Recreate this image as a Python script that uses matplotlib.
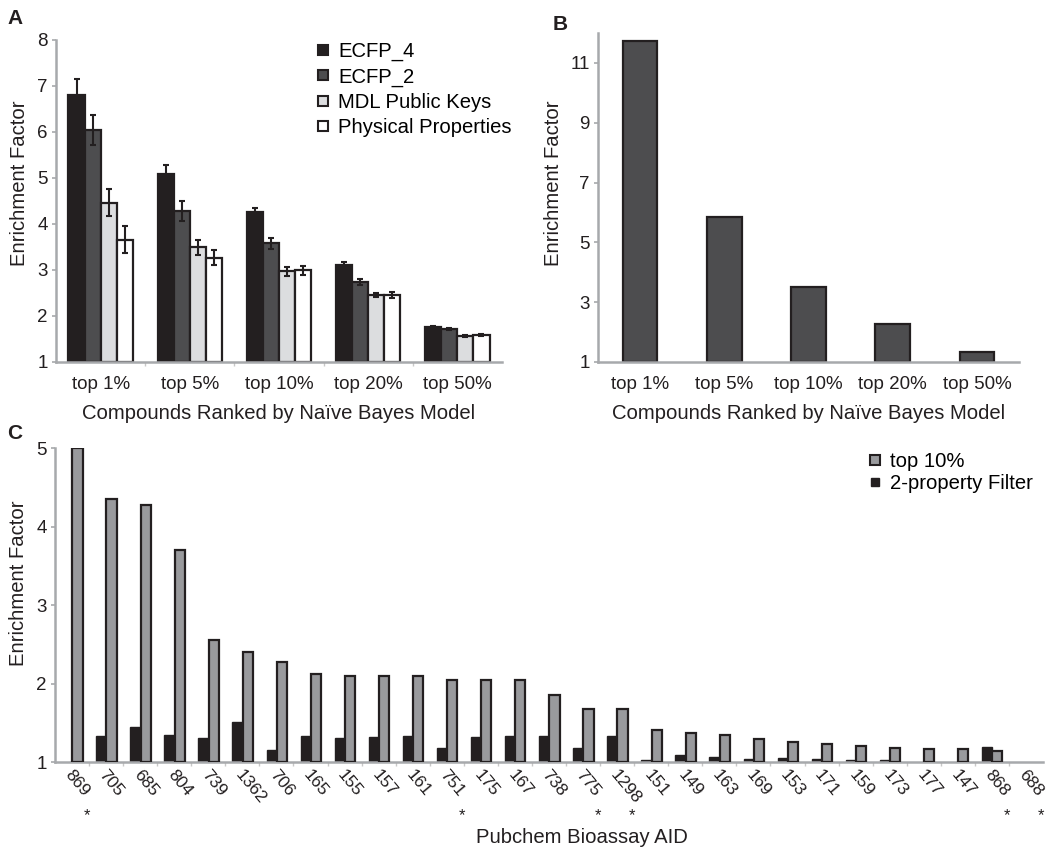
import numpy as np
import matplotlib
matplotlib.use("Agg")
import matplotlib.pyplot as plt
from matplotlib.lines import Line2D

plt.rcParams['font.family'] = ['Liberation Sans', 'DejaVu Sans']

# Panel A: enrichment per fingerprint type
cutoffs = ['top 1%', 'top 5%', 'top 10%', 'top 20%', 'top 50%']
fp_names = ['ECFP_4', 'ECFP_2', 'MDL Public Keys', 'Physical Properties']
fp_colors = ['#231f20', '#4d4d4f', '#dcdddf', '#ffffff']
ecfp4 = [6.81, 5.09, 4.25, 3.10, 1.76]
ecfp4_err = [0.35, 0.19, 0.10, 0.07, 0.03]
ecfp2 = [6.05, 4.28, 3.58, 2.74, 1.72]
ecfp2_err = [0.33, 0.21, 0.12, 0.07, 0.02]
mdl = [4.46, 3.49, 2.97, 2.46, 1.57]
mdl_err = [0.29, 0.16, 0.10, 0.05, 0.02]
physprop = [3.66, 3.27, 2.99, 2.46, 1.59]
physprop_err = [0.30, 0.16, 0.10, 0.06, 0.02]

# Panel B: physical-property model
physprop_b = [11.72, 5.86, 3.52, 2.28, 1.33]

# Panel C: per-assay enrichment
aids = ['869', '705', '685', '804', '739', '1362', '706', '165', '155', '157',
        '161', '751', '175', '167', '738', '775', '1298', '151', '149', '163',
        '169', '153', '171', '159', '173', '177', '147', '868', '688']
top10 = [5.00, 4.35, 4.28, 3.70, 2.55, 2.40, 2.28, 2.12, 2.10, 2.10,
         2.10, 2.05, 2.05, 2.04, 1.85, 1.67, 1.67, 1.41, 1.37, 1.35,
         1.29, 1.25, 1.23, 1.20, 1.18, 1.17, 1.16, 1.14, 1.00]
filter2 = [1.00, 1.33, 1.44, 1.35, 1.30, 1.51, 1.15, 1.33, 1.31, 1.32,
           1.33, 1.18, 1.32, 1.33, 1.33, 1.18, 1.33, 1.03, 1.09, 1.06,
           1.04, 1.05, 1.04, 1.03, 1.03, 1.00, 1.00, 1.19, 1.00]
starred = ['869', '751', '775', '1298', '868', '688']

W, H = 1050, 847
INK = '#231f20'
LBL = 14.6
fig = plt.figure(figsize=(W / 100, H / 100), dpi=100)


def px_axes(left, top, right, bottom):
    return fig.add_axes([left / W, 1 - bottom / H, (right - left) / W, (bottom - top) / H])


def style_axes(ax):
    for s in ['top', 'right']:
        ax.spines[s].set_visible(False)
    for s in ['left', 'bottom']:
        ax.spines[s].set_color('#a7a9ac')
        ax.spines[s].set_linewidth(1.8)
    ax.tick_params(axis='y', colors='#a7a9ac', labelcolor=INK,
                   labelsize=13.5, length=3, width=1.2, direction='out', pad=3)
    ax.tick_params(axis='x', which='major', length=0, labelsize=13.5,
                   labelcolor=INK, pad=10)
    ax.tick_params(axis='x', which='minor', colors='#c8c8c8', length=3, width=1)


def edge_widths(vals, lw):
    # no outline for bars that have no height
    return [lw if v > 1 else 0 for v in vals]


# ---- A ----
axA = px_axes(56, 40, 502, 362)
x = np.arange(len(cutoffs))
bw = 0.18
series = [(ecfp4, ecfp4_err), (ecfp2, ecfp2_err), (mdl, mdl_err), (physprop, physprop_err)]
for i, (vals, errs) in enumerate(series):
    pos = x + (i - 1.5) * bw
    axA.bar(pos, np.array(vals) - 1, bottom=1, width=bw, color=fp_colors[i],
            edgecolor=INK, linewidth=1.6, zorder=2)
    axA.errorbar(pos, vals, yerr=errs, fmt='none', ecolor=INK,
                 elinewidth=1.5, capsize=2.5, capthick=1.5, zorder=3)
axA.set_xlim(-0.5, 4.5)
axA.set_ylim(1, 8)
axA.set_yticks(range(1, 9))
axA.set_xticks(x)
axA.set_xticklabels(cutoffs)
axA.set_xticks(np.arange(0.5, 4.5, 1), minor=True)
style_axes(axA)
axA.set_xlabel('Compounds Ranked by Naïve Bayes Model', fontsize=LBL, color=INK, labelpad=8)
axA.set_ylabel('Enrichment Factor', fontsize=LBL, color=INK)
axA.yaxis.set_label_coords(-0.06, 0.556)
handles = [Line2D([], [], marker='s', linestyle='none', markersize=7,
                  markerfacecolor=c, markeredgecolor=INK, markeredgewidth=1.5)
           for c in fp_colors]
axA.legend(handles, fp_names, loc='upper right', bbox_to_anchor=(1.063, 1.05), frameon=False,
           fontsize=LBL, handlelength=0.6, handletextpad=0.45, labelspacing=0.3)

# ---- B ----
axB = px_axes(598, 33, 1019, 362)
axB.bar(x, np.array(physprop_b) - 1, bottom=1, width=0.41, color='#4d4d4f',
        edgecolor=INK, linewidth=1.6, zorder=2)
axB.set_xlim(-0.5, 4.5)
axB.set_ylim(1, 12)
axB.set_yticks([1, 3, 5, 7, 9, 11])
axB.set_xticks(x)
axB.set_xticklabels(cutoffs)
style_axes(axB)
axB.set_xlabel('Compounds Ranked by Naïve Bayes Model', fontsize=LBL, color=INK, labelpad=8)
axB.set_ylabel('Enrichment Factor', fontsize=LBL, color=INK)
axB.yaxis.set_label_coords(-0.083, 0.544)

# ---- C ----
axC = px_axes(55, 448, 1043, 762)
xc = np.arange(len(aids))
cw = 0.3
axC.bar(xc - 0.14, np.array(filter2) - 1, bottom=1, width=cw, color=INK,
        edgecolor=INK, linewidth=edge_widths(filter2, 1.0), zorder=2)
axC.bar(xc + 0.16, np.array(top10) - 1, bottom=1, width=cw, color='#999a9d',
        edgecolor=INK, linewidth=edge_widths(top10, 1.6), zorder=3)
axC.set_xlim(-0.5, len(aids) - 0.5)
axC.set_ylim(1, 5)
axC.set_yticks(range(1, 6))
axC.set_xticks(xc + 0.05)
axC.set_xticklabels(aids, rotation=-50, ha='left', va='top', rotation_mode='anchor')
axC.set_xticks(np.arange(0.5, len(aids) - 0.5, 1), minor=True)
style_axes(axC)
axC.tick_params(axis='x', which='major', pad=4, labelsize=12.5)
for i, a in enumerate(aids):
    if a in starred:
        axC.text(i + 0.45, -0.17, '*', transform=axC.get_xaxis_transform(),
                 ha='center', va='center', fontsize=12, color=INK)
axC.set_xlabel('Pubchem Bioassay AID', fontsize=LBL, color=INK)
axC.xaxis.set_label_coords(0.533, -0.21)
axC.set_ylabel('Enrichment Factor', fontsize=LBL, color=INK)
axC.yaxis.set_label_coords(-0.027, 0.57)
handlesC = [Line2D([], [], marker='s', linestyle='none', markersize=7,
                   markerfacecolor='#999a9d', markeredgecolor=INK, markeredgewidth=1.5),
            Line2D([], [], marker='s', linestyle='none', markersize=6,
                   markerfacecolor=INK, markeredgecolor=INK)]
axC.legend(handlesC, ['top 10%', '2-property Filter'], loc='upper right',
           bbox_to_anchor=(1.008, 1.045), frameon=False, fontsize=LBL,
           handlelength=0.6, handletextpad=0.45, labelspacing=0.15)

# panel letters
for lbl, (px, py) in zip('ABC', [(15, 18), (560, 25), (15, 433)]):
    fig.text(px / W, 1 - py / H, lbl, fontsize=15, fontweight='bold',
             ha='center', va='center', color=INK)

fig.savefig('out.png', dpi=100)
